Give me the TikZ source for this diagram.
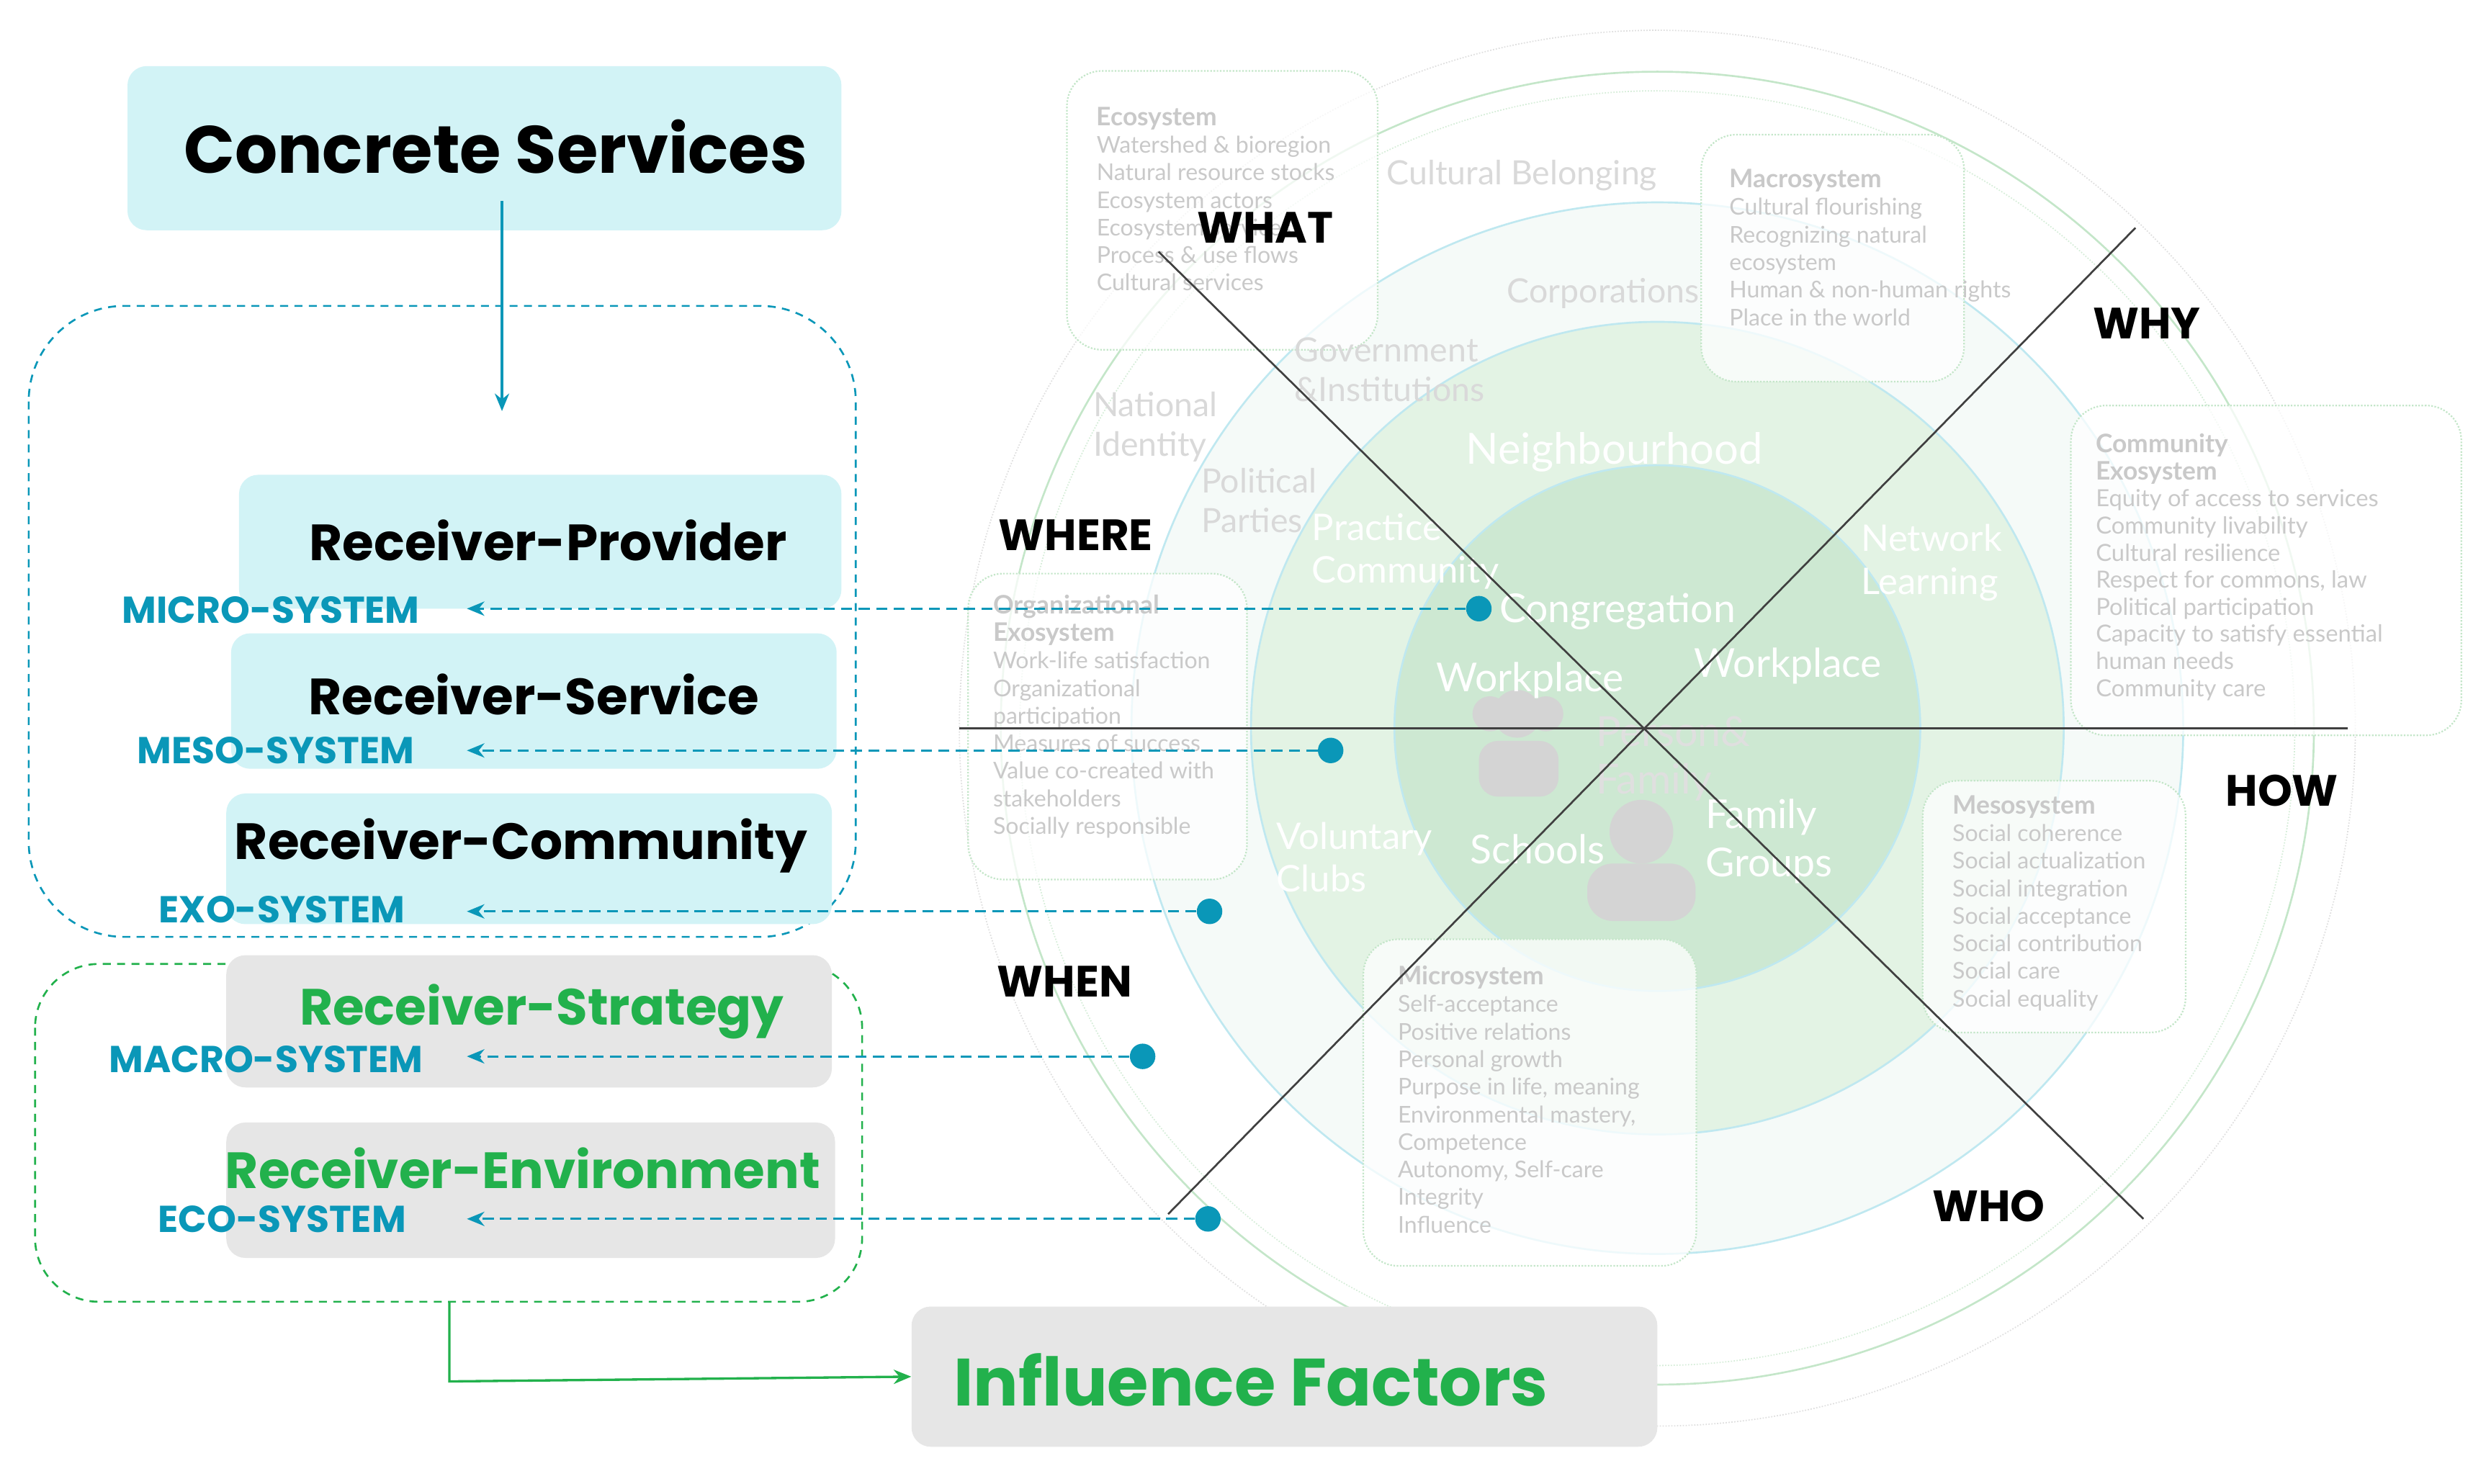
\documentclass[tikz,border=0pt]{standalone}
\usepackage{fontspec}
\setmainfont{Lato}
\newfontfamily\pop{Poppins}
\usetikzlibrary{arrows.meta}
\definecolor{teal}{HTML}{0A97B8}
\definecolor{cyanbox}{HTML}{D2F3F6}
\definecolor{grn}{HTML}{22B14C}
\definecolor{graybox}{HTML}{E6E6E6}
\definecolor{faint}{HTML}{C9C9C9}
\definecolor{ringA}{HTML}{F5FAF8}
\definecolor{ringB}{HTML}{E3F3E4}
\definecolor{ringC}{HTML}{CDE8D2}
\definecolor{ringline}{HTML}{BFE8F0}
\definecolor{outerg}{HTML}{C4E6C9}
\tikzset{
 big/.style={font=\pop\fontsize{42}{48}\selectfont\bfseries},
 rec/.style={font=\pop\fontsize{32}{38}\selectfont\bfseries},
 sys/.style={font=\pop\fontsize{23.5}{26}\selectfont\bfseries, text=teal},
 dir/.style={font=\pop\fontsize{27.5}{30}\selectfont\bfseries},
 cbox/.style={fill=cyanbox, rounded corners=12pt, inner sep=0pt},
 gbox/.style={fill=graybox, rounded corners=12pt, inner sep=0pt},
 fbox/.style={draw=outerg, densely dotted, line width=1pt, fill=white, fill opacity=0.75, rounded corners=22pt, inner sep=0pt},
 ftxt/.style={font=\fontsize{14.5}{17.3}\selectfont, text=faint, align=left, anchor=north west, inner sep=0pt},
 ring/.style={font=\fontsize{21}{25}\selectfont, text=faint!70, align=left},
 wring/.style={font=\fontsize{23}{27}\selectfont, text=white, align=left},
 dotc/.style={circle, fill=teal, minimum size=16pt, inner sep=0pt},
 dconn/.style={teal, line width=1.3pt, dash pattern=on 7pt off 4pt, -{Stealth[length=11pt,width=9pt]}},
}
\begin{document}
\begin{tikzpicture}[x=1pt,y=-1pt]
\useasboundingbox (0,0) rectangle (1560,931);
% ---------- circles ----------
\coordinate (c) at (1040,457);
\draw[faint!60, densely dotted, line width=0.8pt] (c) circle (438);
\draw[outerg, line width=1.2pt] (c) circle (412);
\draw[outerg!70, densely dotted, line width=0.8pt] (c) circle (400);
\fill[ringA] (c) circle (330);
\draw[ringline, line width=1.2pt] (c) circle (330);
\fill[ringB] (c) circle (255);
\draw[ringline, line width=1.2pt] (c) circle (255);
\fill[ringC] (c) circle (165);
\draw[ringline, line width=1.2pt] (c) circle (165);
% person icons
\fill[faint!80] (952,448) circle (15);
\fill[faint!80] (935,448) circle (11);
\fill[faint!80] (970,448) circle (11);
\fill[faint!80, rounded corners=12pt] (928,465) rectangle (978,500);
\fill[faint!80] (1030,522) circle (20);
\fill[faint!80, rounded corners=16pt] (996,542) rectangle (1064,578);
% ---------- faint boxes ----------
\node[fbox, minimum width=195pt, minimum height=175pt] (eco) at (767,132) {};
\node[fbox, minimum width=165pt, minimum height=155pt] (mac) at (1150,162) {};
\node[fbox, minimum width=245pt, minimum height=207pt] (com) at (1422,358) {};
\node[fbox, minimum width=175pt, minimum height=192pt] (org) at (695,456) {};
\node[fbox, minimum width=165pt, minimum height=158pt] (mes) at (1289,569) {};
\node[fbox, minimum width=209pt, minimum height=205pt] (mic) at (960,692) {};
\node[ftxt] (ecot) at (688,67) {\textbf{\fontsize{16}{17.3}\selectfont Ecosystem}\\Watershed \& bioregion\\Natural resource stocks\\Ecosystem actors\\Ecosystem services\\Process \& use flows\\Cultural services};
\node[ftxt] (mact) at (1085,106) {\textbf{\fontsize{16}{17.3}\selectfont Macrosystem}\\Cultural flourishing\\Recognizing natural\\ecosystem\\Human \& non-human rights\\Place in the world};
\node[ftxt, font=\fontsize{14.8}{17}\selectfont] (comt) at (1315,272) {\textbf{\fontsize{16}{21}\selectfont Community}\\\textbf{\fontsize{16}{17}\selectfont Exosystem}\\Equity of access to services\\Community livability\\Cultural resilience\\Respect for commons, law\\Political participation\\Capacity to satisfy essential\\human needs\\Community care};
\node[ftxt] (orgt) at (623,373) {\textbf{\fontsize{16}{21}\selectfont Organizational}\\\textbf{\fontsize{16}{17.3}\selectfont Exosystem}\\Work-life satisfaction\\Organizational\\participation\\Measures of success\\Value co-created with\\stakeholders\\Socially responsible};
\node[ftxt] (mest) at (1225,499) {\textbf{\fontsize{16}{17.3}\selectfont Mesosystem}\\Social coherence\\Social actualization\\Social integration\\Social acceptance\\Social contribution\\Social care\\Social equality};
\node[ftxt] (mict) at (877,606) {\textbf{\fontsize{16}{17.3}\selectfont Microsystem}\\Self-acceptance\\Positive relations\\Personal growth\\Purpose in life, meaning\\Environmental mastery,\\Competence\\Autonomy, Self-care\\Integrity\\Influence};
% ring labels
\node[ring] (cb) at (955,110) {Cultural Belonging};
\node[ring] (corp) at (1006,184) {Corporations};
\node[ring] (gov) at (872,232) {Government\\\&Institutions};
\node[ring] (nat) at (725,268) {National\\Identity};
\node[ring] (pol) at (790,314) {Political\\Parties};
\node[wring, font=\fontsize{27}{31}\selectfont] (nb) at (1013,284) {Neighbourhood};
\node[wring] (pc) at (882,346) {Practice\\Community};
\node[wring] (nl) at (1212,353) {Network\\Learning};
\node[wring, font=\fontsize{25}{29}\selectfont] (cg) at (1015,384) {Congregation};
\node[wring, font=\fontsize{25}{29}\selectfont] (wp1) at (960,427) {Workplace};
\node[wring, font=\fontsize{25}{29}\selectfont] (wp2) at (1122,418) {Workplace};
\node[ring, text=faint!60, font=\fontsize{26}{30}\selectfont] (pf) at (1050,476) {Person\&\\Family};
\node[wring] (vc) at (850,538) {Voluntary\\Clubs};
\node[wring, font=\fontsize{25}{29}\selectfont] (sc) at (965,533) {Schools};
\node[wring, font=\fontsize{25}{30}\selectfont] (fg) at (1110,528) {Family\\Groups};
% ---------- axes ----------
\coordinate (h1) at (602,457); \coordinate (h2) at (1473,457);
\coordinate (d1a) at (727,158); \coordinate (d1b) at (1345,765);
\coordinate (d2a) at (1340,143); \coordinate (d2b) at (733,762);
\draw[black!75, line width=1.4pt] (h1) -- (h2);
\draw[black!75, line width=1.2pt] (d1a) -- (d1b);
\draw[black!75, line width=1.2pt] (d2a) -- (d2b);
\node[dir] (what) at (794,143) {WHAT};
\node[dir] (why) at (1347,203) {WHY};
\node[dir] (where) at (675,336) {WHERE};
\node[dir] (how) at (1432,496) {HOW};
\node[dir] (when) at (668,616) {WHEN};
\node[dir] (who) at (1248,757) {WHO};
% ---------- left panel ----------
\node[cbox, minimum width=448pt, minimum height=103pt] (cs) at (304,93) {};
\node[big] (cst) at (311,92) {Concrete Services};
\coordinate (arrEnd) at (315,258);
\draw[teal, line width=1.5pt, -{Stealth[length=11pt,width=9pt]}] (315,126) -- (arrEnd);
\draw[teal, line width=1.2pt, dash pattern=on 5pt off 4pt, rounded corners=60pt] (18,192) rectangle (537,588);
\draw[grn, line width=1.2pt, dash pattern=on 5pt off 4pt, rounded corners=40pt] (22,605) rectangle (541,817);
\node[cbox, minimum width=378pt, minimum height=84pt] (rp) at (339,340) {};
\node[rec] (rpt) at (344,339) {Receiver-Provider};
\node[cbox, minimum width=380pt, minimum height=85pt] (rs) at (335,440) {};
\node[rec] (rst) at (335,436) {Receiver-Service};
\node[cbox, minimum width=380pt, minimum height=82pt] (rc) at (332,539) {};
\node[rec] (rct) at (327,531) {Receiver-Community};
\node[gbox, minimum width=380pt, minimum height=83pt] (rg) at (332,641) {};
\node[rec, text=grn] (rgt) at (340,635) {Receiver-Strategy};
\node[gbox, minimum width=382pt, minimum height=85pt] (re) at (333,747) {};
\node[rec, text=grn] (ret) at (328,733) {Receiver-Environment};
\node[sys] (micro) at (170,383) {MICRO-SYSTEM};
\node[sys] (meso) at (173,471) {MESO-SYSTEM};
\node[sys] (exo) at (177,571) {EXO-SYSTEM};
\node[sys] (macro) at (167,665) {MACRO-SYSTEM};
\node[sys] (ecos) at (177,765) {ECO-SYSTEM};
\node[dotc] (p1) at (928,382) {};
\node[dotc] (p2) at (835,471) {};
\node[dotc] (p3) at (759,572) {};
\node[dotc] (p4) at (717,663) {};
\node[dotc] (p5) at (758,765) {};
\coordinate (e1) at (293,382); \coordinate (e2) at (293,471);
\coordinate (e3) at (293,572); \coordinate (e4) at (293,663);
\coordinate (e5) at (293,765);
\draw[dconn] (p1) -- (e1);
\draw[dconn] (p2) -- (e2);
\draw[dconn] (p3) -- (e3);
\draw[dconn] (p4) -- (e4);
\draw[dconn] (p5) -- (e5);
\node[gbox, minimum width=468pt, minimum height=88pt] (inf) at (806,864) {};
\node[big, text=grn] (inft) at (785,866) {Influence Factors};
\draw[grn, line width=1.5pt, -{Stealth[length=11pt,width=9pt]}] (282,817) -- (282,867) -- (inf.west);
\end{tikzpicture}
\end{document}
